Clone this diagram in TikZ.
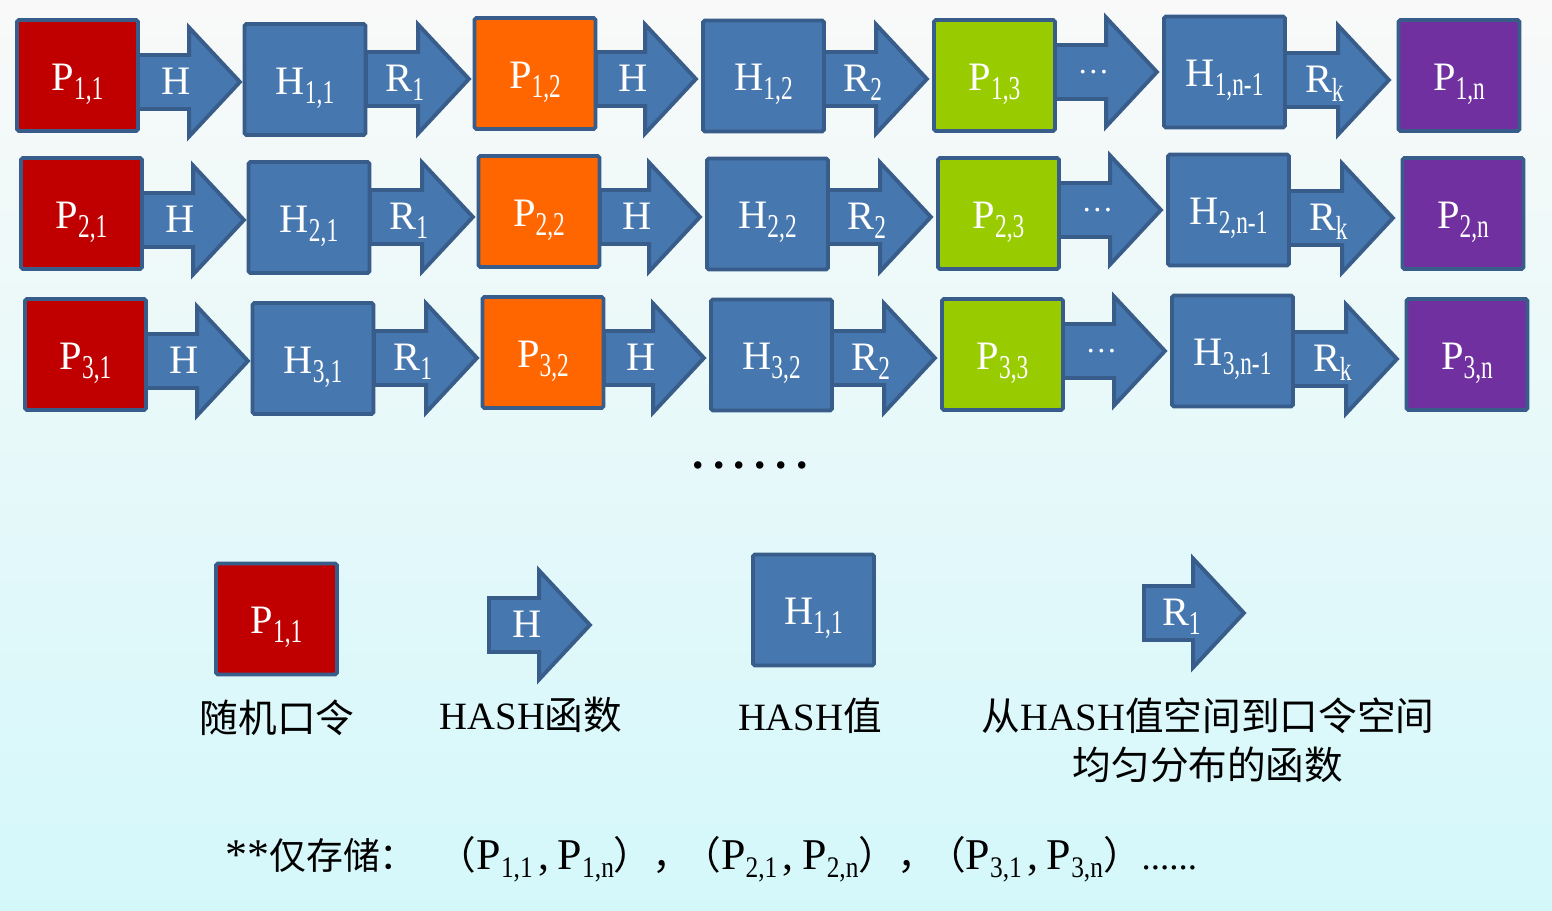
\documentclass[tikz,border=0pt]{standalone}
\usepackage{fontspec}
\setmainfont{Liberation Serif}
\newfontfamily\cjk{Noto Sans CJK SC}
\usepackage{graphicx}
\usetikzlibrary{shapes.arrows}

\definecolor{pwred}{HTML}{C00000}
\definecolor{pworange}{HTML}{FF6600}
\definecolor{pwgreen}{HTML}{99CC00}
\definecolor{pwpurple}{HTML}{7030A0}
\definecolor{hashblue}{HTML}{4677AF}
\definecolor{hashedge}{HTML}{385D8A}
\definecolor{bgtop}{HTML}{F9F9F9}
\definecolor{bgmid}{HTML}{EEF4F4}
\definecolor{bgbot}{HTML}{D4F8FA}

% lowered, narrow index
\newcommand{\lowsub}[1]{\raisebox{-5pt}{\scalebox{0.7}[1]{\fontsize{19}{19}\selectfont #1}}}
% index of the last line
\newcommand{\notesub}[1]{\raisebox{-5pt}{\scalebox{0.85}[1]{\fontsize{17}{17}\selectfont #1}}}
% three dots in an arrow
\newcommand{\skipdots}{\raisebox{6.5pt}{\fontsize{18}{18}\selectfont …}}

\tikzset{
  box/.style={draw=hashedge, line width=2.2pt, rounded corners=1pt,
    minimum width=2.42cm, minimum height=2.22cm, inner sep=0pt,
    text height=20pt, text depth=3pt,
    text=white, font=\fontsize{23}{23}\selectfont},
  pbox/.style={box, fill=#1},
  hbox/.style={box, fill=hashblue},
  harrow/.style={single arrow, draw=hashedge, fill=hashblue, line width=2.2pt,
    single arrow head extend=0.55cm, single arrow tip angle=94,
    minimum height=#1, text height=21.5pt, text depth=7pt,
    inner xsep=2pt, inner ysep=0pt, anchor=tail,
    text=white, font=\fontsize{23}{23}\selectfont},
  caption/.style={font=\fontsize{22}{22}\selectfont, text=black, inner sep=0pt},
}

\begin{document}
\begin{tikzpicture}[x=0.02cm,y=-0.02cm]

	% background
	\shade[top color=bgtop, middle color=bgmid, bottom color=bgbot] (0,0) rectangle (1552,911);

	% chain 1
	\node[harrow=2.04cm] (a1h) at (136,82) {H};
	\node[harrow=2.06cm] (a1r) at (364,79) {R\lowsub{1}};
	\node[harrow=2.0cm] (a1h2) at (594,79) {H};
	\node[harrow=2.06cm] (a1r2) at (822,79) {R\lowsub{2}};
	\node[harrow=2.04cm] (a1d) at (1053,72) {\skipdots};
	\node[harrow=2.08cm] (a1rk) at (1283,80) {R\lowsub{k}};
	\node[pbox=pwred] (p11) at (77.5,75.5) {P\lowsub{1,1}};
	\node[hbox] (h11) at (305,79.5) {H\lowsub{1,1}};
	\node[pbox=pworange] (p12) at (535,73.5) {P\lowsub{1,2}};
	\node[hbox] (h12) at (763.5,76) {H\lowsub{1,2}};
	\node[pbox=pwgreen] (p13) at (994.5,75.5) {P\lowsub{1,3}};
	\node[hbox] (h1n) at (1224.5,72) {H\lowsub{1,n-1}};
	\node[pbox=pwpurple] (p1n) at (1459,75.5) {P\lowsub{1,n}};

	% chain 2
	\begin{scope}[shift={(4,138)}]
	\node[harrow=2.04cm] (a2h) at (136,82) {H};
	\node[harrow=2.06cm] (a2r) at (364,79) {R\lowsub{1}};
	\node[harrow=2.0cm] (a2h2) at (594,79) {H};
	\node[harrow=2.06cm] (a2r2) at (822,79) {R\lowsub{2}};
	\node[harrow=2.04cm] (a2d) at (1053,72) {\skipdots};
	\node[harrow=2.08cm] (a2rk) at (1283,80) {R\lowsub{k}};
	\node[pbox=pwred] (p21) at (77.5,75.5) {P\lowsub{2,1}};
	\node[hbox] (h21) at (305,79.5) {H\lowsub{2,1}};
	\node[pbox=pworange] (p22) at (535,73.5) {P\lowsub{2,2}};
	\node[hbox] (h22) at (763.5,76) {H\lowsub{2,2}};
	\node[pbox=pwgreen] (p23) at (994.5,75.5) {P\lowsub{2,3}};
	\node[hbox] (h2n) at (1224.5,72) {H\lowsub{2,n-1}};
	\node[pbox=pwpurple] (p2n) at (1459,75.5) {P\lowsub{2,n}};
	\end{scope}

	% chain 3
	\begin{scope}[shift={(8,279)}]
	\node[harrow=2.04cm] (a3h) at (136,82) {H};
	\node[harrow=2.06cm] (a3r) at (364,79) {R\lowsub{1}};
	\node[harrow=2.0cm] (a3h2) at (594,79) {H};
	\node[harrow=2.06cm] (a3r2) at (822,79) {R\lowsub{2}};
	\node[harrow=2.04cm] (a3d) at (1053,72) {\skipdots};
	\node[harrow=2.08cm] (a3rk) at (1283,80) {R\lowsub{k}};
	\node[pbox=pwred] (p31) at (77.5,75.5) {P\lowsub{3,1}};
	\node[hbox] (h31) at (305,79.5) {H\lowsub{3,1}};
	\node[pbox=pworange] (p32) at (535,73.5) {P\lowsub{3,2}};
	\node[hbox] (h32) at (763.5,76) {H\lowsub{3,2}};
	\node[pbox=pwgreen] (p33) at (994.5,75.5) {P\lowsub{3,3}};
	\node[hbox] (h3n) at (1224.5,72) {H\lowsub{3,n-1}};
	\node[pbox=pwpurple] (p3n) at (1459,75.5) {P\lowsub{3,n}};
	\end{scope}

	% more chains
	\node[font=\bfseries\fontsize{26}{26}\selectfont, inner sep=0pt, anchor=base] (more) at (750,469)
		{.\kern5.3pt.\kern5.3pt.\kern5.3pt.\kern5.3pt.\kern5.3pt.};

	% legend
	\node[pbox=pwred] (lp) at (276.5,619) {P\lowsub{1,1}};
	\node[harrow=2.02cm] (lh) at (487,625) {H};
	\node[hbox] (lv) at (813.5,610) {H\lowsub{1,1}};
	\node[harrow=2.0cm] (lr) at (1142,613) {R\lowsub{1}};

	% legend texts
	\node[caption] (tp) at (277,718) {\cjk 随机口令};
	\node[caption] (th) at (531,715) {HASH{\cjk 函数}};
	\node[caption] (tv) at (810,716) {HASH{\cjk 值}};
	\node[caption, align=center] (tr) at (1208,740)
		{{\cjk 从}HASH{\cjk 值空间到口令空间}\\[6pt]{\cjk 均匀分布的函数}};

	% stored pairs
	\node[caption, anchor=base west, font=\fontsize{25}{25}\selectfont] (note) at (225,869)
		{**{\cjk\fontsize{21}{21}\selectfont 仅存储：}\hspace{12pt}{\cjk\fontsize{22}{22}\selectfont （}P\notesub{1,1}\hspace{3pt},\hspace{5pt}P\notesub{1,n}{\cjk\fontsize{22}{22}\selectfont ），}\hspace{-5pt}{\cjk\fontsize{22}{22}\selectfont （}P\notesub{2,1}\hspace{3pt},\hspace{5pt}P\notesub{2,n}{\cjk\fontsize{22}{22}\selectfont ），}\hspace{-5pt}{\cjk\fontsize{22}{22}\selectfont （}P\notesub{3,1}\hspace{3pt},\hspace{5pt}P\notesub{3,n}{\cjk\fontsize{22}{22}\selectfont ）}{\fontsize{21}{21}\selectfont ......}};

\end{tikzpicture}
\end{document}
